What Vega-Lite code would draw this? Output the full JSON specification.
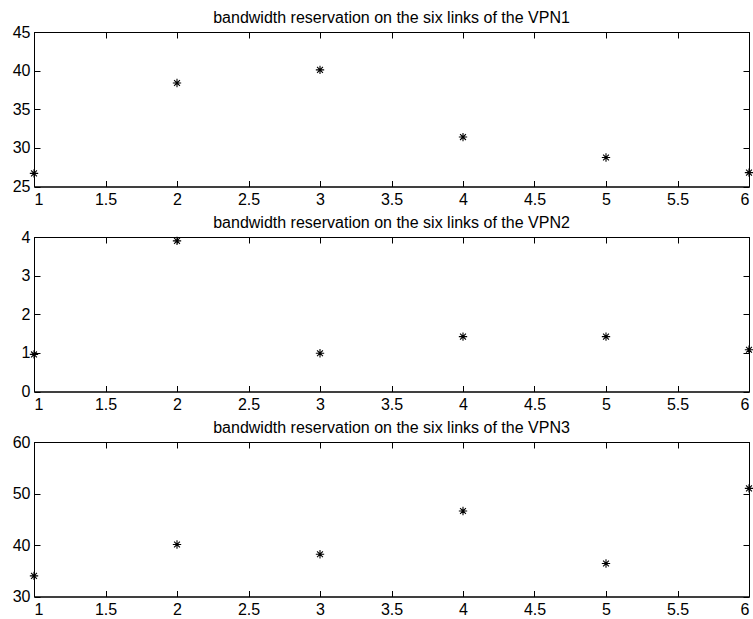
{
  "$schema": "https://vega.github.io/schema/vega-lite/v6.json",
  "padding": {"left": 11, "top": 9, "right": 0, "bottom": 0},
  "autosize": {"type": "pad"},
  "background": "white",
  "data": {
    "values": [
      {"vpn": "VPN1", "link": 1, "bw": 26.7},
      {"vpn": "VPN1", "link": 2, "bw": 38.4},
      {"vpn": "VPN1", "link": 3, "bw": 40.1},
      {"vpn": "VPN1", "link": 4, "bw": 31.4},
      {"vpn": "VPN1", "link": 5, "bw": 28.75},
      {"vpn": "VPN1", "link": 6, "bw": 26.8},
      {"vpn": "VPN2", "link": 1, "bw": 0.96},
      {"vpn": "VPN2", "link": 2, "bw": 3.9},
      {"vpn": "VPN2", "link": 3, "bw": 0.99},
      {"vpn": "VPN2", "link": 4, "bw": 1.42},
      {"vpn": "VPN2", "link": 5, "bw": 1.42},
      {"vpn": "VPN2", "link": 6, "bw": 1.08},
      {"vpn": "VPN3", "link": 1, "bw": 34.0},
      {"vpn": "VPN3", "link": 2, "bw": 40.1},
      {"vpn": "VPN3", "link": 3, "bw": 38.2},
      {"vpn": "VPN3", "link": 4, "bw": 46.6},
      {"vpn": "VPN3", "link": 5, "bw": 36.4},
      {"vpn": "VPN3", "link": 6, "bw": 51.0}
    ]
  },
  "config": {
    "font": "Liberation Sans",
    "view": {"stroke": "black", "strokeWidth": 1},
    "axis": {
      "labelFont": "Liberation Sans",
      "labelFontSize": 16,
      "labelColor": "black",
      "tickColor": "black",
      "domainColor": "black",
      "tickSize": -6,
      "grid": false,
      "title": null,
      "minExtent": 0
    },
    "axisX": {"labelPadding": 11},
    "axisY": {"labelPadding": 10},
    "title": {"font": "Liberation Sans", "fontSize": 16, "fontWeight": "normal", "color": "black", "offset": -2, "frame": "group", "anchor": "middle"}
  },
  "spacing": 50,
  "bounds": "flush",
  "vconcat": [
    {
      "title": "bandwidth reservation on the six links of the VPN1",
      "width": 715,
      "height": 154.5,
      "transform": [{"filter": "datum.vpn == 'VPN1'"}],
      "layer": [
        {
          "mark": {"type": "point", "shape": "M-1,0L1,0M0,-1L0,1M-0.7,-0.7L0.7,0.7M-0.7,0.7L0.7,-0.7", "filled": false, "stroke": "black", "strokeWidth": 1.1, "size": 70, "opacity": 1},
          "encoding": {
            "x": {"field": "link", "type": "quantitative", "scale": {"domain": [1, 6], "nice": false, "zero": false}, "axis": {"orient": "bottom", "values": [1, 1.5, 2, 2.5, 3, 3.5, 4, 4.5, 5, 5.5, 6], "format": "~g"}},
            "y": {"field": "bw", "type": "quantitative", "scale": {"domain": [25, 45], "nice": false, "zero": false}, "axis": {"orient": "left", "values": [25, 30, 35, 40, 45], "format": ".0f"}}
          }
        },
        {
          "mark": {"type": "point", "opacity": 0},
          "encoding": {
            "x": {"field": "link", "type": "quantitative", "axis": {"orient": "top", "values": [1, 1.5, 2, 2.5, 3, 3.5, 4, 4.5, 5, 5.5, 6], "labels": false}},
            "y": {"field": "bw", "type": "quantitative", "axis": {"orient": "right", "values": [25, 30, 35, 40, 45], "labels": false}}
          }
        }
      ],
      "resolve": {"axis": {"x": "independent", "y": "independent"}}
    },
    {
      "title": "bandwidth reservation on the six links of the VPN2",
      "width": 715,
      "height": 154.5,
      "transform": [{"filter": "datum.vpn == 'VPN2'"}],
      "layer": [
        {
          "mark": {"type": "point", "shape": "M-1,0L1,0M0,-1L0,1M-0.7,-0.7L0.7,0.7M-0.7,0.7L0.7,-0.7", "filled": false, "stroke": "black", "strokeWidth": 1.1, "size": 70, "opacity": 1},
          "encoding": {
            "x": {"field": "link", "type": "quantitative", "scale": {"domain": [1, 6], "nice": false, "zero": false}, "axis": {"orient": "bottom", "values": [1, 1.5, 2, 2.5, 3, 3.5, 4, 4.5, 5, 5.5, 6], "format": "~g"}},
            "y": {"field": "bw", "type": "quantitative", "scale": {"domain": [0, 4], "nice": false, "zero": false}, "axis": {"orient": "left", "values": [0, 1, 2, 3, 4], "format": ".0f"}}
          }
        },
        {
          "mark": {"type": "point", "opacity": 0},
          "encoding": {
            "x": {"field": "link", "type": "quantitative", "axis": {"orient": "top", "values": [1, 1.5, 2, 2.5, 3, 3.5, 4, 4.5, 5, 5.5, 6], "labels": false}},
            "y": {"field": "bw", "type": "quantitative", "axis": {"orient": "right", "values": [0, 1, 2, 3, 4], "labels": false}}
          }
        }
      ],
      "resolve": {"axis": {"x": "independent", "y": "independent"}}
    },
    {
      "title": "bandwidth reservation on the six links of the VPN3",
      "width": 715,
      "height": 154.5,
      "transform": [{"filter": "datum.vpn == 'VPN3'"}],
      "layer": [
        {
          "mark": {"type": "point", "shape": "M-1,0L1,0M0,-1L0,1M-0.7,-0.7L0.7,0.7M-0.7,0.7L0.7,-0.7", "filled": false, "stroke": "black", "strokeWidth": 1.1, "size": 70, "opacity": 1},
          "encoding": {
            "x": {"field": "link", "type": "quantitative", "scale": {"domain": [1, 6], "nice": false, "zero": false}, "axis": {"orient": "bottom", "values": [1, 1.5, 2, 2.5, 3, 3.5, 4, 4.5, 5, 5.5, 6], "format": "~g"}},
            "y": {"field": "bw", "type": "quantitative", "scale": {"domain": [30, 60], "nice": false, "zero": false}, "axis": {"orient": "left", "values": [30, 40, 50, 60], "format": ".0f"}}
          }
        },
        {
          "mark": {"type": "point", "opacity": 0},
          "encoding": {
            "x": {"field": "link", "type": "quantitative", "axis": {"orient": "top", "values": [1, 1.5, 2, 2.5, 3, 3.5, 4, 4.5, 5, 5.5, 6], "labels": false}},
            "y": {"field": "bw", "type": "quantitative", "axis": {"orient": "right", "values": [30, 40, 50, 60], "labels": false}}
          }
        }
      ],
      "resolve": {"axis": {"x": "independent", "y": "independent"}}
    }
  ]
}
